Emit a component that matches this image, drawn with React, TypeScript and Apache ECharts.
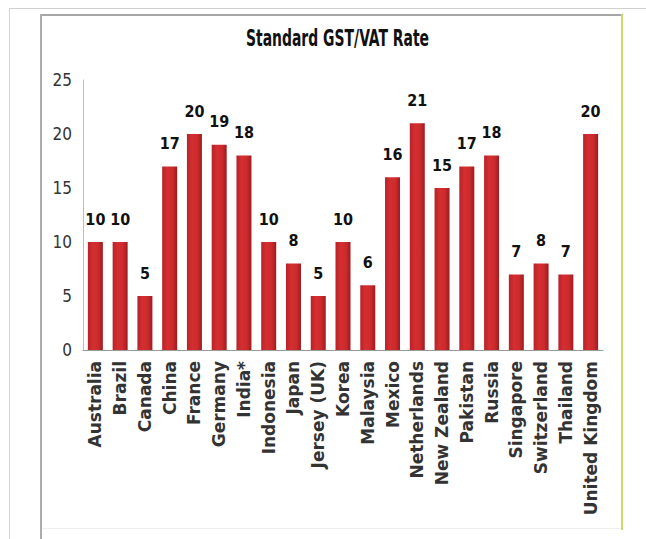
import React, { useEffect, useRef } from "react";
import * as echarts from "echarts";

const title = "Standard GST/VAT Rate";
const countries = [
  "Australia", "Brazil", "Canada", "China", "France", "Germany", "India*",
  "Indonesia", "Japan", "Jersey (UK)", "Korea", "Malaysia", "Mexico",
  "Netherlands", "New Zealand", "Pakistan", "Russia", "Singapore",
  "Switzerland", "Thailand", "United Kingdom",
];
const rates = [10, 10, 5, 17, 20, 19, 18, 10, 8, 5, 10, 6, 16, 21, 15, 17, 18, 7, 8, 7, 20];
const yTicks = { min: 0, max: 25, interval: 5 };

const narrow = "'Liberation Sans Narrow', 'DejaVu Sans Condensed', 'Roboto Condensed', 'Liberation Sans', sans-serif";

export default function App() {
  const ref = useRef<HTMLDivElement>(null);
  useEffect(() => {
    if (!ref.current) return;
    const chart = echarts.init(ref.current, null, { renderer: "svg" });
    chart.setOption({
      animation: false,
      backgroundColor: "#ffffff",
      grid: { left: 83, right: 43, top: 80, bottom: 189, containLabel: false },
      xAxis: {
        type: "category",
        data: countries,
        axisLine: { show: true, lineStyle: { color: "#9a9a9a", width: 1 } },
        axisTick: { show: false },
        axisLabel: {
          interval: 0,
          rotate: 90,
          margin: 11,
          fontFamily: "'DejaVu Sans', Verdana, sans-serif",
          fontWeight: "bold",
          fontSize: 17,
          color: "#333",
        },
      },
      yAxis: {
        type: "value",
        min: yTicks.min,
        max: yTicks.max,
        interval: yTicks.interval,
        axisLine: { show: true, lineStyle: { color: "#bdbdbd", width: 1 } },
        axisTick: { show: false },
        splitLine: { show: false },
        axisLabel: { margin: 11, fontFamily: narrow, fontSize: 17, color: "#333" },
      },
      series: [
        {
          type: "bar",
          data: rates,
          barWidth: 15,
          itemStyle: {
            color: new echarts.graphic.LinearGradient(0, 0, 1, 0, [
              { offset: 0, color: "#b8222a" },
              { offset: 0.35, color: "#d42f30" },
              { offset: 0.7, color: "#cc2a2c" },
              { offset: 1, color: "#9c1c20" },
            ]),
          },
          label: {
            show: true,
            position: "top",
            distance: 15,
            fontFamily: narrow,
            fontWeight: "bold",
            fontSize: 16,
            color: "#111",
          },
        },
      ],
      graphic: [
        { type: "line", shape: { x1: 9, y1: 8.5, x2: 646, y2: 8.5 }, style: { stroke: "#cfcfcf", lineWidth: 1 } },
        { type: "line", shape: { x1: 9.5, y1: 8, x2: 9.5, y2: 539 }, style: { stroke: "#d5d5d5", lineWidth: 1 } },
        { type: "line", shape: { x1: 40, y1: 15, x2: 622, y2: 15 }, style: { stroke: "#a6a6a6", lineWidth: 2 } },
        { type: "line", shape: { x1: 41, y1: 14, x2: 41, y2: 539 }, style: { stroke: "#acacac", lineWidth: 2 } },
        { type: "line", shape: { x1: 622, y1: 14, x2: 622, y2: 530 }, style: { stroke: "#c9da66", lineWidth: 2 } },
        { type: "line", shape: { x1: 42, y1: 528.5, x2: 621, y2: 528.5 }, style: { stroke: "#eeeeee", lineWidth: 1 } },
        {
          type: "text",
          x: 337.5,
          y: 50,
          scaleX: 1,
          scaleY: 1.45,
          style: {
            text: title,
            fontFamily: narrow,
            fontWeight: "bold",
            fontSize: 15.5,
            fill: "#111",
            textAlign: "center",
            textVerticalAlign: "bottom",
          },
        },
      ],
    });
    return () => chart.dispose();
  }, []);
  return (
    <div
      ref={ref}
      style={{ position: "fixed", left: 0, top: 0, width: 646, height: 539 }}
    />
  );
}
